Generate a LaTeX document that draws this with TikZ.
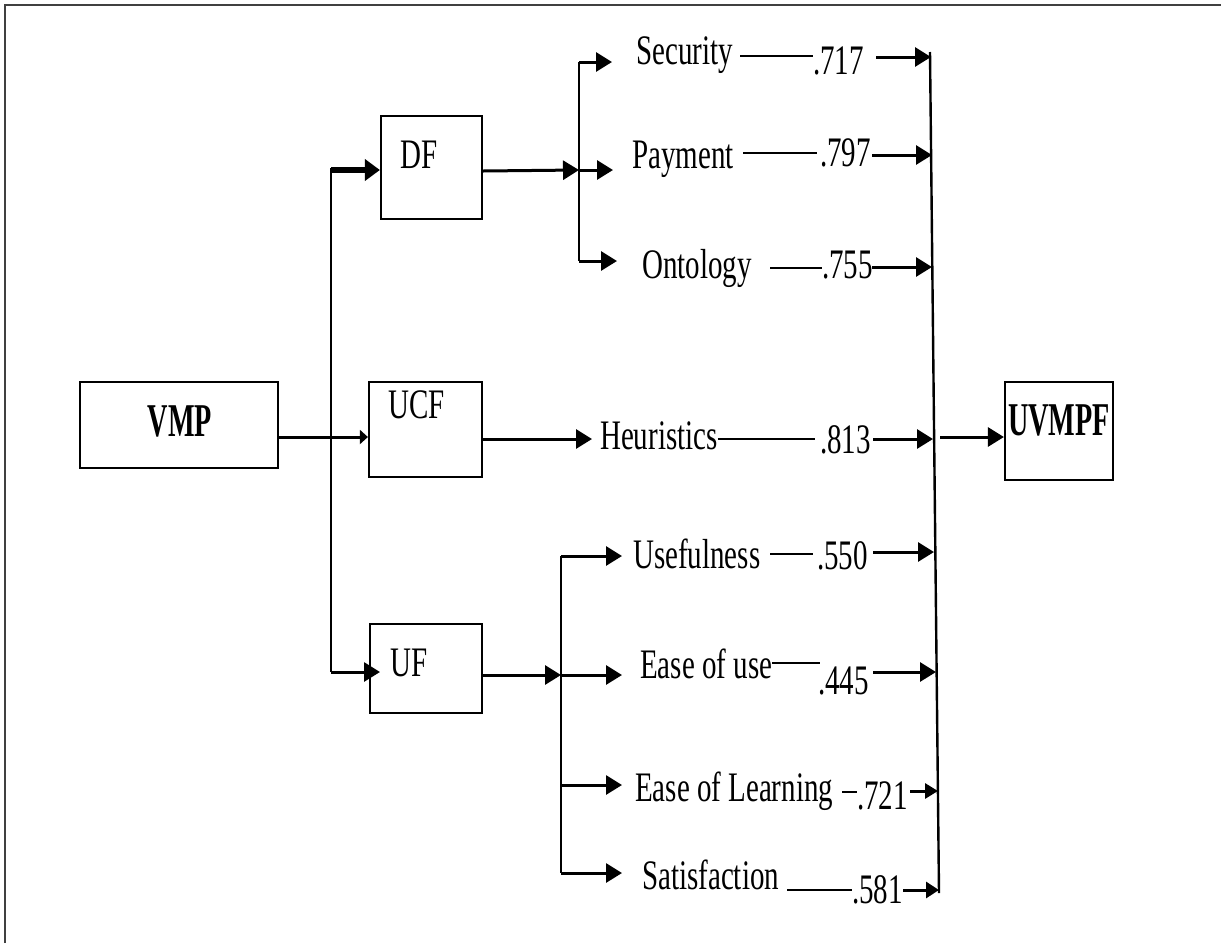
\documentclass[tikz,border=0pt]{standalone}
\usepackage{fontspec}
\setmainfont{Liberation Serif}[FakeStretch=0.69]
\newfontfamily\bfam{Liberation Serif}[FakeStretch=0.6]
\usetikzlibrary{arrows.meta}
\begin{document}
\begin{tikzpicture}[x=1pt,y=-1pt,
  box/.style={draw, line width=2.2pt, rectangle, inner sep=0pt},
  lbl/.style={inner sep=0pt, anchor=base west, font=\fontsize{42}{42}\selectfont},
  blbl/.style={inner sep=0pt, anchor=base, font=\bfam\bfseries\fontsize{47}{47}\selectfont},
  arr/.style={line width=3pt, -{Triangle[length=16pt,width=19pt]}},
  thickarr/.style={line width=5.5pt, -{Triangle[length=15pt,width=21pt]}},
  ln/.style={line width=2.4pt},
  frame/.style={line width=2pt, draw=black!75}
]
\useasboundingbox (0,0) rectangle (1221,943);
\draw[frame] (5,943) -- (5,5) -- (1221,5);

% boxes
\node[box, minimum width=198pt, minimum height=86pt] (vmp) at (179,425) {};
\node[box, minimum width=101pt, minimum height=103pt] (df) at (431.5,167.5) {};
\node[box, minimum width=113pt, minimum height=95pt] (ucf) at (425.5,429.5) {};
\node[box, minimum width=112pt, minimum height=89pt] (uf) at (426,668.5) {};
\node[box, minimum width=108pt, minimum height=98pt] (uvmpf) at (1059,431) {};

\node[blbl] (tvmp) at (180,436) {VMP};
\node[blbl] (tuvmpf) at (1059,435) {UVMPF};
\node[lbl] (tdf) at (400,168) {DF};
\node[lbl] (tucf) at (388,418) {UCF};
\node[lbl] (tuf) at (390,676) {UF};

% item labels
\node[lbl] (sec) at (636,64) {Security};
\node[lbl] (v717) at (813,74) {.717};
\node[lbl] (pay) at (632,168) {Payment};
\node[lbl] (v797) at (820,166) {.797};
\node[lbl] (ont) at (642,278) {Ontology};
\node[lbl] (v755) at (822,278) {.755};
\node[lbl] (heu) at (600,449) {Heuristics};
\node[lbl] (v813) at (820,453) {.813};
\node[lbl] (use) at (633,568) {Usefulness};
\node[lbl] (v550) at (817,569) {.550};
\node[lbl] (eou) at (640,678) {Ease of use};
\node[lbl] (v445) at (818,694) {.445};
\node[lbl] (eol) at (635,801) {Ease of Learning};
\node[lbl] (v721) at (857,809) {.721};
\node[lbl] (sat) at (642,889) {Satisfaction};
\node[lbl] (v581) at (852,903) {.581};

% junction coordinates
\coordinate (t1) at (331,168);
\coordinate (t2) at (331,672);
\coordinate (t3) at (331,437);
\coordinate (b1top) at (579,62);
\coordinate (b1mid) at (579,170);
\coordinate (b1bot) at (579,261);
\coordinate (b2top) at (561,556);
\coordinate (b2a) at (561,675);
\coordinate (b2b) at (561,785);
\coordinate (b2bot) at (561,873);
\coordinate (ctop) at (930,52);
\coordinate (cbot) at (939,893);
\coordinate (cmid) at (940,437);

% trunk
\draw[ln] (t1) -- (t2);
\draw[thickarr] (331,170) -- (df.west |- 0,170);
\draw[arr] (t2) -- (380,672);
\draw[line width=3pt,-{Triangle[length=8pt,width=14pt]}] (vmp.east |- t3) -- (ucf.west |- t3);

% DF branch
\draw[arr] (df.east |- 0,171) -- (b1mid);
\draw[ln] (b1top) -- (b1bot);
\draw[arr] (b1top) -- (612,62);
\draw[arr] (b1mid) -- (613,170);
\draw[arr] (b1bot) -- (617,261);

% UCF branch
\draw[arr] (ucf.east |- 0,439) -- (592,439);

% UF branch
\draw[arr] (uf.east |- b2a) -- (b2a);
\draw[ln] (b2top) -- (b2bot);
\draw[arr] (b2top) -- (622,556);
\draw[arr] (b2a) -- (622,675);
\draw[arr] (b2b) -- (622,785);
\draw[arr] (b2bot) -- (622,873);

% row lines
\draw[ln] (740,56) -- (813,56);
\draw[ln] (743,153) -- (817,153);
\draw[ln] (770,268) -- (822,268);
\draw[ln] (heu.east |- 0,439) -- (815,439);
\draw[ln] (770,554) -- (813,554);
\draw[ln] (eou.east |- 0,663) -- (820,663);
\draw[ln] (842,792) -- (857,792);
\draw[ln] (787,890) -- (852,890);

% row arrows
\draw[arr] (876,57) -- (931,57);
\draw[arr] (872,155) -- (932,155);
\draw[arr] (872,267) -- (932,267);
\draw[arr] (873,439) -- (933,439);
\draw[arr] (873,552) -- (934,552);
\draw[arr] (873,672) -- (936,672);
\draw[line width=3pt,-{Triangle[length=13pt,width=15pt]}] (910,791) -- (938,791);
\draw[line width=3pt,-{Triangle[length=13pt,width=16pt]}] (903,890) -- (939,890);

% collector
\draw[ln] (ctop) -- (cbot);
\draw[arr] (cmid) -- (uvmpf.west |- cmid);
\end{tikzpicture}
\end{document}
